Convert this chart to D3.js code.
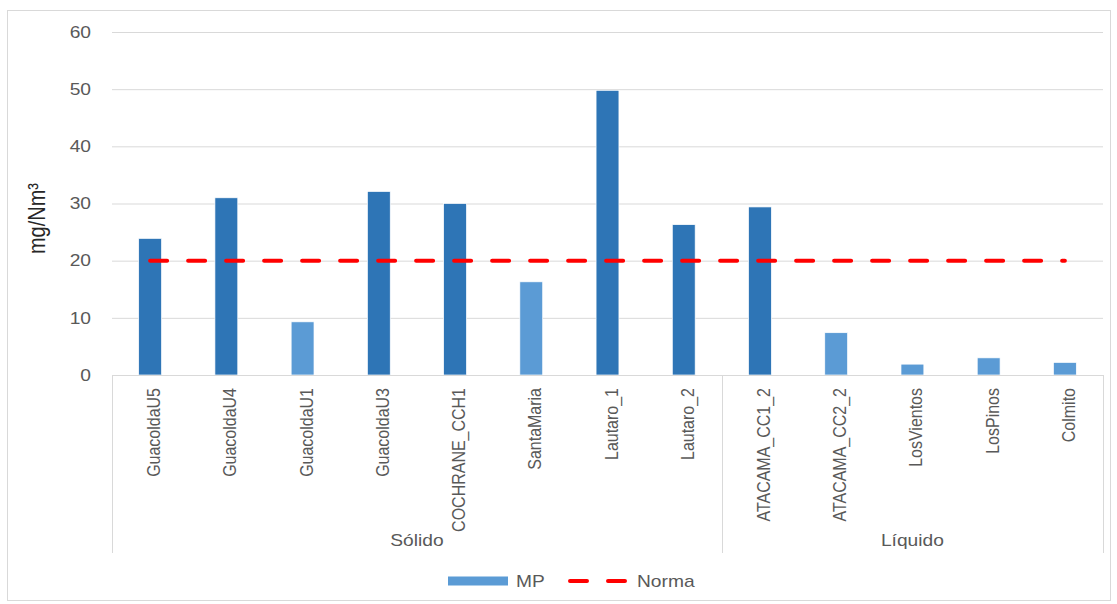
<!DOCTYPE html>
<html>
<head>
<meta charset="utf-8">
<title>MP</title>
<script src="https://d3js.org/d3.v7.min.js"></script>
<style>
  body { margin: 0; background: #fff; }
  text { font-family: "Liberation Sans", Arial, sans-serif; }
</style>
</head>
<body>
<script>
// datos
const centrales = ["GuacoldaU5", "GuacoldaU4", "GuacoldaU1", "GuacoldaU3", "COCHRANE_CCH1", "SantaMaria",
  "Lautaro_1", "Lautaro_2", "ATACAMA_CC1_2", "ATACAMA_CC2_2", "LosVientos", "LosPinos", "Colmito"]
const mp = [23.9, 31.0, 9.3, 32.1, 30.0, 16.3, 49.8, 26.3, 29.4, 7.4, 1.9, 3.0, 2.2]
const grupo = ["Sólido", "Sólido", "Sólido", "Sólido", "Sólido", "Sólido", "Sólido", "Sólido",
  "Líquido", "Líquido", "Líquido", "Líquido", "Líquido"]
const norma = 20
const yTicks = [0, 10, 20, 30, 40, 50, 60]

const width = 1117, height = 604
const margin = {top: 32, right: 14, bottom: 229, left: 112}
const ancho = 1.2 // el texto del original se ve estirado en horizontal

const svg = d3.select("body").append("svg")
  .attr("width", width)
  .attr("height", height)

// borde del area del grafico
svg.append("rect")
  .attr("x", 7.5).attr("y", 10.5)
  .attr("width", 1103).attr("height", 590)
  .attr("fill", "none")
  .attr("stroke", "#d9d9d9")

const y = d3.scaleLinear([0, 60], [375, margin.top])
const x = d3.scaleBand(centrales, [margin.left, width - margin.right])
  .paddingInner(0.7)
  .paddingOuter(0.35)

// grilla
svg.append("g")
  .selectAll("line")
  .data(yTicks.filter(d => d > 0))
  .join("line")
  .attr("x1", margin.left).attr("x2", width - margin.right)
  .attr("y1", d => y(d) + 0.5).attr("y2", d => y(d) + 0.5)
  .attr("stroke", "#d9d9d9")

// etiquetas eje y
svg.append("g")
  .selectAll("text")
  .data(yTicks)
  .join("text")
  .attr("transform", d => `translate(91,${y(d)}) scale(${ancho},1)`)
  .attr("dy", "0.36em")
  .attr("text-anchor", "end")
  .attr("fill", "#595959")
  .style("font-size", "16px")
  .text(d => d)

svg.append("text")
  .attr("transform", `translate(45,${(y(0) + y(60)) / 2 + 15}) scale(${ancho},1) rotate(-90)`)
  .attr("text-anchor", "middle")
  .attr("fill", "#262626")
  .style("font-size", "20px")
  .text("mg/Nm³")

// barras
svg.append("g")
  .selectAll("rect")
  .data(centrales)
  .join("rect")
  .attr("x", d => x(d))
  .attr("width", x.bandwidth())
  .attr("y", (d, i) => y(mp[i]))
  .attr("height", (d, i) => y(0) - y(mp[i]))
  .attr("fill", (d, i) => mp[i] >= norma ? "#2e75b6" : "#5b9bd5")
  .attr("stroke", "#ffffff")
  .attr("stroke-width", 0.7)

// eje x multinivel
const ejeX = svg.append("g")
ejeX.append("line")
  .attr("x1", margin.left).attr("x2", width - margin.right)
  .attr("y1", y(0) + 0.5).attr("y2", y(0) + 0.5)
  .attr("stroke", "#d9d9d9")

const grupos = d3.groups(centrales.map((c, i) => ({c, g: grupo[i]})), d => d.g)
const limites = [margin.left]
grupos.forEach(([g, items]) => {
  const ultimo = items[items.length - 1].c
  limites.push(x(ultimo) + x.bandwidth() / 2 + x.step() / 2)
})
ejeX.selectAll(".sep")
  .data(limites)
  .join("line")
  .attr("x1", d => Math.round(d) + 0.5).attr("x2", d => Math.round(d) + 0.5)
  .attr("y1", y(0)).attr("y2", 553)
  .attr("stroke", "#d9d9d9")

ejeX.selectAll(".cat")
  .data(centrales)
  .join("text")
  .attr("transform", d => `translate(${x(d) + x.bandwidth() / 2 + 10},${y(0) + 13}) scale(${ancho},1) rotate(-90)`)
  .attr("text-anchor", "end")
  .attr("fill", "#595959")
  .style("font-size", "16px")
  .text(d => d)

ejeX.selectAll(".grp")
  .data(grupos)
  .join("text")
  .attr("transform", ([g, items]) => {
    const a = x(items[0].c) - (x.step() - x.bandwidth()) / 2
    const b = x(items[items.length - 1].c) + x.bandwidth() + (x.step() - x.bandwidth()) / 2
    return `translate(${(a + b) / 2},546) scale(${ancho},1)`
  })
  .attr("text-anchor", "middle")
  .attr("fill", "#595959")
  .style("font-size", "16px")
  .text(([g]) => g)

// linea norma
const primero = centrales[0], ultimo = centrales[centrales.length - 1]
svg.append("line")
  .attr("x1", x(primero) + x.bandwidth() / 2)
  .attr("x2", x(ultimo) + x.bandwidth() / 2)
  .attr("y1", y(norma)).attr("y2", y(norma))
  .attr("stroke", "#ff0000")
  .attr("stroke-width", 4)
  .attr("stroke-linecap", "round")
  .attr("stroke-dasharray", "17,21")

// leyenda
const ley = svg.append("g").attr("transform", "translate(448,581)")
ley.append("rect")
  .attr("x", 0).attr("y", -4.5)
  .attr("width", 60).attr("height", 9)
  .attr("fill", "#5b9bd5")
ley.append("text")
  .attr("transform", `translate(68,5.5) scale(${ancho},1)`)
  .attr("fill", "#595959")
  .style("font-size", "16px")
  .text("MP")
ley.append("line")
  .attr("x1", 122).attr("x2", 178)
  .attr("y1", 0).attr("y2", 0)
  .attr("stroke", "#ff0000")
  .attr("stroke-width", 4)
  .attr("stroke-linecap", "round")
  .attr("stroke-dasharray", "17,21")
ley.append("text")
  .attr("transform", `translate(189,5.5) scale(${ancho},1)`)
  .attr("fill", "#595959")
  .style("font-size", "16px")
  .text("Norma")
</script>
</body>
</html>
